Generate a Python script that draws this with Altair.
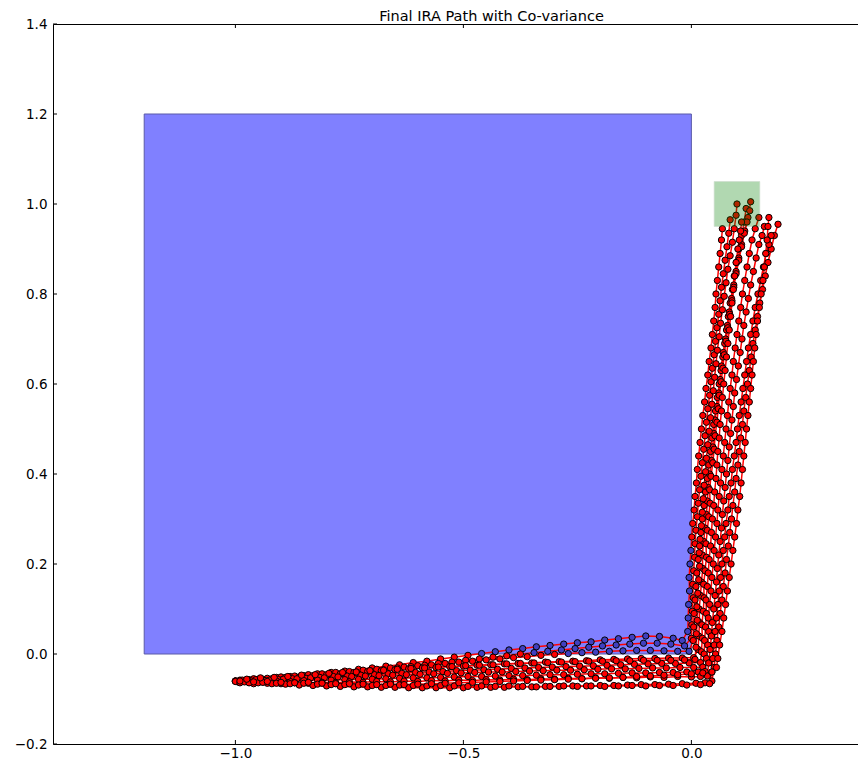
import altair as alt
import pandas as pd

title_text = "Final IRA Path with Co-variance"
x_ticks = [-1.0, -0.5, 0.0]
y_ticks = [-0.2, 0.0, 0.2, 0.4, 0.6, 0.8, 1.0, 1.2, 1.4]
x_domain = [-1.4, 0.3654]
y_domain = [-0.2, 1.4]

obstacle_box = [-1.2, 0.0, 0.0, 1.2]   # x0, x1, y0, y1
goal_box = [0.05, 0.15, 0.95, 1.05]

# ---- path 1
p1_hx = [-1.00,-0.97,-0.94,-0.91,-0.88,-0.85,-0.82,-0.79,-0.76,-0.73,-0.70,-0.67,-0.64,-0.61,-0.58,-0.55,-0.52,-0.49,-0.46,-0.43,-0.40,-0.37,-0.34,-0.31,-0.28,-0.25,-0.22,-0.19,-0.16,-0.13,-0.10,-0.07,-0.04,-0.02]
p1_hy = [-0.060,-0.057,-0.056,-0.052,-0.050,-0.048,-0.044,-0.041,-0.038,-0.034,-0.031,-0.027,-0.024,-0.019,-0.016,-0.011,-0.007,-0.003,0.001,0.005,0.009,0.012,0.016,0.019,0.022,0.025,0.027,0.031,0.034,0.037,0.040,0.039,0.035,0.030]
p1_vx = [-0.008,-0.007,-0.006,-0.004,-0.005,-0.003,-0.001,0.001,0.003,0.006,0.008,0.011,0.013,0.016,0.019,0.022,0.025,0.029,0.032,0.036,0.039,0.043,0.046,0.049,0.052,0.054,0.057,0.060,0.063,0.066,0.068]
p1_vy = [0.05,0.08,0.11,0.14,0.17,0.20,0.23,0.26,0.29,0.32,0.35,0.38,0.41,0.44,0.47,0.50,0.53,0.56,0.59,0.62,0.65,0.68,0.71,0.74,0.77,0.80,0.83,0.86,0.89,0.92,0.945]
# ---- path 2
p2_hx = [-1.00,-0.975,-0.945,-0.915,-0.885,-0.855,-0.825,-0.795,-0.765,-0.735,-0.705,-0.675,-0.645,-0.615,-0.585,-0.555,-0.525,-0.495,-0.465,-0.435,-0.405,-0.375,-0.345,-0.315,-0.285,-0.255,-0.225,-0.195,-0.165,-0.135,-0.105,-0.075,-0.045,-0.015]
p2_hy = [-0.060,-0.061,-0.058,-0.055,-0.054,-0.050,-0.048,-0.045,-0.043,-0.040,-0.037,-0.035,-0.031,-0.028,-0.025,-0.021,-0.018,-0.014,-0.011,-0.007,-0.004,0.000,0.003,0.006,0.009,0.012,0.015,0.018,0.020,0.022,0.024,0.024,0.022,0.018]
p2_vx = [0.000,0.001,0.002,0.004,0.003,0.005,0.007,0.008,0.010,0.013,0.015,0.018,0.021,0.024,0.027,0.030,0.033,0.036,0.040,0.043,0.046,0.050,0.053,0.056,0.060,0.063,0.066,0.070,0.074,0.078,0.082,0.085]
p2_vy = [0.035,0.065,0.095,0.125,0.155,0.185,0.215,0.245,0.275,0.305,0.335,0.365,0.395,0.425,0.455,0.485,0.515,0.545,0.575,0.605,0.635,0.665,0.695,0.725,0.755,0.785,0.815,0.845,0.875,0.905,0.935,0.965]
# ---- path 3
p3_hx = [-0.99,-0.96,-0.93,-0.90,-0.87,-0.84,-0.81,-0.78,-0.75,-0.72,-0.69,-0.66,-0.63,-0.60,-0.57,-0.54,-0.51,-0.48,-0.45,-0.42,-0.39,-0.36,-0.33,-0.30,-0.27,-0.24,-0.21,-0.18,-0.15,-0.12,-0.09,-0.06,-0.03,-0.005]
p3_hy = [-0.058,-0.055,-0.054,-0.051,-0.049,-0.046,-0.044,-0.041,-0.039,-0.036,-0.034,-0.031,-0.029,-0.026,-0.024,-0.021,-0.018,-0.016,-0.013,-0.011,-0.008,-0.006,-0.003,-0.001,0.001,0.003,0.004,0.006,0.007,0.008,0.008,0.007,0.006,0.006]
p3_vx = [0.004,0.005,0.006,0.008,0.010,0.012,0.015,0.018,0.021,0.024,0.028,0.031,0.035,0.038,0.042,0.045,0.049,0.053,0.057,0.061,0.065,0.069,0.073,0.077,0.081,0.085,0.090,0.094,0.099,0.104,0.110,0.116,0.120]
p3_vy = [0.03,0.06,0.09,0.12,0.15,0.18,0.21,0.24,0.27,0.30,0.33,0.36,0.39,0.42,0.45,0.48,0.51,0.54,0.57,0.60,0.63,0.66,0.69,0.72,0.75,0.78,0.81,0.84,0.87,0.90,0.93,0.96,0.99]
# ---- path 4
p4_hx = [-1.00,-0.97,-0.95,-0.92,-0.89,-0.86,-0.83,-0.80,-0.77,-0.74,-0.71,-0.68,-0.65,-0.62,-0.59,-0.56,-0.53,-0.50,-0.47,-0.44,-0.41,-0.38,-0.35,-0.32,-0.29,-0.26,-0.23,-0.20,-0.17,-0.14,-0.11,-0.08,-0.05,-0.02,0.005]
p4_hy = [-0.060,-0.059,-0.056,-0.055,-0.052,-0.051,-0.048,-0.046,-0.044,-0.041,-0.039,-0.037,-0.035,-0.033,-0.031,-0.030,-0.028,-0.027,-0.025,-0.024,-0.022,-0.021,-0.020,-0.018,-0.017,-0.016,-0.015,-0.013,-0.012,-0.011,-0.010,-0.010,-0.009,-0.009,-0.008]
p4_vx = [0.015,0.016,0.018,0.017,0.020,0.022,0.025,0.024,0.027,0.030,0.033,0.035,0.037,0.040,0.044,0.047,0.049,0.052,0.056,0.060,0.063,0.066,0.070,0.075,0.079,0.083,0.088,0.093,0.098,0.104,0.110,0.117,0.124,0.130]
p4_vy = [0.01,0.04,0.07,0.10,0.13,0.16,0.19,0.22,0.25,0.28,0.31,0.34,0.37,0.40,0.43,0.46,0.49,0.52,0.55,0.58,0.61,0.64,0.67,0.70,0.73,0.76,0.79,0.82,0.85,0.88,0.91,0.94,0.97,1.005]
# ---- path 5
p5_hx = [-0.995,-0.965,-0.935,-0.905,-0.875,-0.845,-0.815,-0.785,-0.755,-0.725,-0.695,-0.665,-0.635,-0.605,-0.575,-0.545,-0.515,-0.485,-0.455,-0.425,-0.395,-0.365,-0.335,-0.305,-0.275,-0.245,-0.215,-0.185,-0.155,-0.125,-0.095,-0.065,-0.035,-0.005,0.02]
p5_hy = [-0.062,-0.060,-0.059,-0.057,-0.055,-0.054,-0.052,-0.050,-0.049,-0.047,-0.046,-0.044,-0.043,-0.041,-0.040,-0.039,-0.037,-0.036,-0.035,-0.034,-0.032,-0.031,-0.030,-0.029,-0.028,-0.027,-0.026,-0.025,-0.024,-0.023,-0.022,-0.021,-0.021,-0.020,-0.019]
p5_vx = [0.022,0.024,0.023,0.026,0.028,0.027,0.030,0.033,0.032,0.035,0.038,0.041,0.040,0.043,0.047,0.050,0.052,0.056,0.059,0.061,0.065,0.069,0.072,0.076,0.080,0.084,0.089,0.093,0.098,0.104,0.110,0.116,0.122,0.128]
p5_vy = [0.005,0.035,0.065,0.095,0.125,0.155,0.185,0.215,0.245,0.275,0.305,0.335,0.365,0.395,0.425,0.455,0.485,0.515,0.545,0.575,0.605,0.635,0.665,0.695,0.725,0.755,0.785,0.815,0.845,0.875,0.905,0.935,0.960,0.985]
# ---- path 6
p6_hx = [-0.985,-0.955,-0.925,-0.895,-0.865,-0.835,-0.805,-0.775,-0.745,-0.715,-0.685,-0.655,-0.625,-0.595,-0.565,-0.535,-0.505,-0.475,-0.445,-0.415,-0.385,-0.355,-0.325,-0.295,-0.265,-0.235,-0.205,-0.175,-0.145,-0.115,-0.085,-0.055,-0.025,0.005,0.025]
p6_hy = [-0.058,-0.057,-0.058,-0.056,-0.055,-0.053,-0.053,-0.051,-0.050,-0.049,-0.048,-0.047,-0.046,-0.045,-0.044,-0.043,-0.042,-0.041,-0.040,-0.040,-0.039,-0.038,-0.037,-0.036,-0.036,-0.035,-0.034,-0.033,-0.033,-0.032,-0.031,-0.031,-0.030,-0.030,-0.029]
p6_vx = [0.028,0.029,0.031,0.033,0.032,0.035,0.037,0.039,0.042,0.044,0.046,0.049,0.051,0.054,0.056,0.058,0.061,0.063,0.066,0.068,0.071,0.074,0.077,0.080,0.083,0.086,0.089,0.092,0.095,0.098,0.102,0.105,0.108,0.110]
p6_vy = [0.0,0.03,0.06,0.09,0.12,0.15,0.18,0.21,0.24,0.27,0.30,0.33,0.36,0.39,0.42,0.45,0.48,0.51,0.54,0.57,0.60,0.63,0.66,0.69,0.72,0.75,0.78,0.81,0.84,0.87,0.90,0.92,0.94,0.96]
# ---- path 7
p7_hx = [-1.0,-0.97,-0.94,-0.91,-0.88,-0.85,-0.82,-0.79,-0.76,-0.73,-0.70,-0.67,-0.64,-0.61,-0.58,-0.55,-0.52,-0.49,-0.46,-0.43,-0.40,-0.37,-0.34,-0.31,-0.28,-0.25,-0.22,-0.19,-0.16,-0.13,-0.10,-0.07,-0.04,-0.01,0.015,0.03]
p7_hy = [-0.061,-0.063,-0.062,-0.060,-0.061,-0.059,-0.058,-0.058,-0.057,-0.056,-0.056,-0.055,-0.054,-0.053,-0.053,-0.052,-0.051,-0.050,-0.050,-0.049,-0.048,-0.048,-0.047,-0.046,-0.046,-0.045,-0.044,-0.044,-0.043,-0.042,-0.042,-0.041,-0.041,-0.040,-0.040,-0.039]
p7_vx = [0.033,0.036,0.038,0.037,0.040,0.043,0.045,0.048,0.050,0.053,0.056,0.058,0.061,0.064,0.067,0.070,0.073,0.076,0.079,0.082,0.085,0.089,0.092,0.096,0.100,0.104,0.108,0.112,0.117,0.122,0.127,0.133,0.140,0.148]
p7_vy = [-0.01,0.02,0.05,0.08,0.11,0.14,0.17,0.20,0.23,0.26,0.29,0.32,0.35,0.38,0.41,0.44,0.47,0.50,0.53,0.56,0.59,0.62,0.65,0.68,0.71,0.74,0.77,0.80,0.83,0.86,0.89,0.92,0.945,0.97]
# ---- path 8
p8_hx = [-0.99,-0.96,-0.93,-0.90,-0.87,-0.84,-0.81,-0.78,-0.75,-0.72,-0.69,-0.66,-0.63,-0.60,-0.57,-0.54,-0.51,-0.48,-0.45,-0.42,-0.39,-0.36,-0.33,-0.30,-0.27,-0.24,-0.21,-0.18,-0.15,-0.12,-0.09,-0.06,-0.03,0.0,0.02,0.035]
p8_hy = [-0.064,-0.066,-0.065,-0.066,-0.064,-0.065,-0.063,-0.064,-0.062,-0.063,-0.061,-0.062,-0.060,-0.061,-0.059,-0.060,-0.058,-0.059,-0.057,-0.058,-0.056,-0.057,-0.055,-0.056,-0.054,-0.055,-0.053,-0.054,-0.052,-0.053,-0.051,-0.052,-0.050,-0.051,-0.050,-0.049]
p8_vx = [0.038,0.041,0.044,0.046,0.049,0.052,0.055,0.057,0.060,0.063,0.066,0.068,0.071,0.074,0.077,0.080,0.083,0.086,0.089,0.092,0.095,0.099,0.103,0.107,0.111,0.115,0.120,0.125,0.130,0.136,0.142,0.148,0.155,0.160]
p8_vy = [-0.02,0.01,0.04,0.07,0.10,0.13,0.16,0.19,0.22,0.25,0.28,0.31,0.34,0.37,0.40,0.43,0.46,0.49,0.52,0.55,0.58,0.61,0.64,0.67,0.70,0.73,0.76,0.79,0.82,0.85,0.88,0.91,0.93,0.95]
# ---- path 9
p9_hx = [-0.98,-0.95,-0.92,-0.89,-0.86,-0.83,-0.80,-0.77,-0.74,-0.71,-0.68,-0.65,-0.62,-0.59,-0.56,-0.53,-0.50,-0.47,-0.44,-0.41,-0.38,-0.35,-0.32,-0.29,-0.26,-0.23,-0.20,-0.17,-0.14,-0.11,-0.08,-0.05,-0.02,0.01,0.03,0.045]
p9_hy = [-0.062,-0.064,-0.066,-0.067,-0.069,-0.070,-0.071,-0.072,-0.073,-0.073,-0.074,-0.074,-0.075,-0.075,-0.075,-0.075,-0.075,-0.074,-0.074,-0.074,-0.073,-0.073,-0.072,-0.072,-0.071,-0.071,-0.070,-0.070,-0.069,-0.068,-0.068,-0.067,-0.066,-0.065,-0.064,-0.060]
p9_vx = [0.050,0.053,0.056,0.060,0.063,0.067,0.070,0.074,0.077,0.081,0.084,0.088,0.091,0.095,0.098,0.102,0.105,0.108,0.112,0.115,0.119,0.123,0.127,0.131,0.135,0.140,0.145,0.150,0.156,0.162,0.168,0.175,0.182,0.190]
p9_vy = [-0.03,0.0,0.03,0.06,0.09,0.12,0.15,0.18,0.21,0.24,0.27,0.30,0.33,0.36,0.39,0.42,0.45,0.48,0.51,0.54,0.57,0.60,0.63,0.66,0.69,0.72,0.75,0.78,0.81,0.84,0.87,0.90,0.93,0.955]
# ---- path 10
p10_hx = [-0.97,-0.94,-0.91,-0.88,-0.85,-0.82,-0.79,-0.76,-0.73,-0.70,-0.67,-0.64,-0.61,-0.58,-0.55,-0.52,-0.49,-0.46,-0.43,-0.40,-0.37,-0.34,-0.31,-0.28,-0.25,-0.22,-0.19,-0.16,-0.13,-0.10,-0.07,-0.04,-0.01,0.02,0.04]
p10_hy = [-0.064,-0.063,-0.065,-0.066,-0.065,-0.067,-0.068,-0.068,-0.069,-0.070,-0.070,-0.069,-0.070,-0.071,-0.070,-0.071,-0.072,-0.071,-0.072,-0.071,-0.072,-0.073,-0.072,-0.071,-0.072,-0.071,-0.072,-0.071,-0.070,-0.071,-0.070,-0.070,-0.069,-0.068,-0.066]
p10_vx = [0.045,0.047,0.050,0.052,0.055,0.058,0.061,0.064,0.067,0.070,0.073,0.076,0.080,0.083,0.087,0.090,0.094,0.098,0.101,0.105,0.109,0.113,0.117,0.121,0.125,0.130,0.135,0.140,0.146,0.152,0.158,0.164,0.170,0.175]
p10_vy = [-0.04,-0.01,0.02,0.05,0.08,0.11,0.14,0.17,0.20,0.23,0.26,0.29,0.32,0.35,0.38,0.41,0.44,0.47,0.50,0.53,0.56,0.59,0.62,0.65,0.68,0.71,0.74,0.77,0.80,0.83,0.86,0.89,0.91,0.93]
# ---- path 11
p11_hx = [-0.99,-0.96,-0.93,-0.90,-0.87,-0.84,-0.81,-0.78,-0.75,-0.72,-0.69,-0.66,-0.63,-0.60,-0.57,-0.54,-0.51,-0.48,-0.45,-0.42,-0.39,-0.36,-0.33,-0.30,-0.27,-0.24,-0.21,-0.18,-0.15,-0.12,-0.09,-0.06,-0.03,0.0,0.025,0.045,0.055]
p11_hy = [-0.060,-0.062,-0.061,-0.063,-0.064,-0.063,-0.065,-0.066,-0.066,-0.067,-0.068,-0.067,-0.068,-0.067,-0.066,-0.065,-0.064,-0.063,-0.062,-0.061,-0.060,-0.059,-0.058,-0.057,-0.056,-0.055,-0.054,-0.053,-0.052,-0.050,-0.049,-0.047,-0.046,-0.044,-0.042,-0.040,-0.030]
p11_vx = [0.058,0.062,0.067,0.071,0.075,0.079,0.083,0.087,0.091,0.095,0.099,0.102,0.106,0.109,0.112,0.115,0.118,0.121,0.124,0.127,0.130,0.133,0.136,0.139,0.142,0.145,0.149,0.153,0.157,0.160,0.163,0.166,0.168,0.170]
p11_vy = [-0.01,0.02,0.05,0.08,0.11,0.14,0.17,0.20,0.23,0.26,0.29,0.32,0.35,0.38,0.41,0.44,0.47,0.50,0.53,0.56,0.59,0.62,0.65,0.68,0.71,0.74,0.77,0.80,0.83,0.86,0.89,0.92,0.95,0.97]
# ---- path 12
p12_hx = [-0.975,-0.945,-0.915,-0.885,-0.855,-0.825,-0.795,-0.765,-0.735,-0.705,-0.675,-0.645,-0.615,-0.585,-0.555,-0.525,-0.495,-0.465,-0.435,-0.405,-0.375,-0.345,-0.315,-0.285,-0.255,-0.225,-0.195,-0.165,-0.135,-0.105,-0.075,-0.045,-0.015,0.008]
p12_hy = [-0.056,-0.053,-0.052,-0.050,-0.047,-0.046,-0.043,-0.041,-0.040,-0.037,-0.036,-0.034,-0.032,-0.031,-0.029,-0.028,-0.026,-0.025,-0.024,-0.022,-0.021,-0.020,-0.019,-0.018,-0.017,-0.016,-0.016,-0.015,-0.015,-0.014,-0.014,-0.014,-0.013,-0.012]
p12_vx = [0.010,0.011,0.013,0.012,0.014,0.016,0.018,0.017,0.019,0.022,0.024,0.026,0.028,0.031,0.033,0.036,0.039,0.042,0.045,0.048,0.051,0.054,0.057,0.061,0.064,0.068,0.072,0.076,0.080,0.085,0.090,0.094,0.098,0.100]
p12_vy = [0.015,0.045,0.075,0.105,0.135,0.165,0.195,0.225,0.255,0.285,0.315,0.345,0.375,0.405,0.435,0.465,0.495,0.525,0.555,0.585,0.615,0.645,0.675,0.705,0.735,0.765,0.795,0.825,0.855,0.885,0.915,0.945,0.975,1.0]

paths = [
    (p1_hx, p1_hy, p1_vx, p1_vy), (p2_hx, p2_hy, p2_vx, p2_vy),
    (p3_hx, p3_hy, p3_vx, p3_vy), (p4_hx, p4_hy, p4_vx, p4_vy),
    (p5_hx, p5_hy, p5_vx, p5_vy), (p6_hx, p6_hy, p6_vx, p6_vy),
    (p7_hx, p7_hy, p7_vx, p7_vy), (p8_hx, p8_hy, p8_vx, p8_vy),
    (p9_hx, p9_hy, p9_vx, p9_vy), (p10_hx, p10_hy, p10_vx, p10_vy),
    (p11_hx, p11_hy, p11_vx, p11_vy), (p12_hx, p12_hy, p12_vx, p12_vy),
]

rows = []
for pid, (hx, hy, vx, vy) in enumerate(paths):
    pts = list(zip(hx, hy)) + list(zip(vx, vy))
    for i, (xv, yv) in enumerate(pts):
        rows.append({"path": pid, "step": i, "x": xv, "y": yv})
df = pd.DataFrame(rows)
ox0, ox1, oy0, oy1 = obstacle_box
df["inside"] = (df.x > ox0) & (df.x < ox1) & (df.y > oy0) & (df.y < oy1)

rects = pd.DataFrame([
    {"name": "obstacle", "x0": obstacle_box[0], "x1": obstacle_box[1], "y0": obstacle_box[2], "y1": obstacle_box[3]},
])
goal = pd.DataFrame([
    {"name": "goal", "x0": goal_box[0], "x1": goal_box[1], "y0": goal_box[2], "y1": goal_box[3]},
])

W, H = 805, 720
FONT = "DejaVu Sans"

xscale = alt.Scale(domain=x_domain, nice=False, zero=False)
yscale = alt.Scale(domain=y_domain, nice=False, zero=False)
xaxis = alt.Axis(values=x_ticks, format=".1f", tickSize=0, domain=False, grid=False,
                 labelPadding=2, labelFontSize=13.5, labelFont=FONT, labelColor="black", title=None)
yaxis = alt.Axis(values=y_ticks, format=".1f", tickSize=0, domain=False, grid=False,
                 labelPadding=6, labelFontSize=13.5, labelFont=FONT, labelColor="black", title=None)

X = lambda f: alt.X(f, type="quantitative", scale=xscale, axis=xaxis)
Y = lambda f: alt.Y(f, type="quantitative", scale=yscale, axis=yaxis)

obstacle_layer = alt.Chart(rects).mark_rect(color="#8080ff", stroke="#5a5aa8", strokeWidth=1).encode(
    x=X("x0"), x2="x1", y=Y("y0"), y2="y1")

lines = alt.Chart(df).mark_line(color="red", strokeWidth=1.5, clip=True).encode(
    x=X("x"), y=Y("y"), detail="path:N", order="step:Q")

points = alt.Chart(df).mark_point(filled=True, size=40, stroke="black", strokeWidth=1,
                                  opacity=1, clip=True).encode(
    x=X("x"), y=Y("y"),
    fill=alt.condition("datum.inside", alt.value("#4040c0"), alt.value("red")))

goal_layer = alt.Chart(goal).mark_rect(color="green", opacity=0.3, stroke="#5a8a5a",
                                       strokeWidth=1, strokeOpacity=0.6).encode(
    x=X("x0"), x2="x1", y=Y("y0"), y2="y1")

xt = pd.DataFrame({"t": x_ticks})
yt = pd.DataFrame({"t": y_ticks})
tick_bottom = alt.Chart(xt).mark_rule(color="black", strokeWidth=1).encode(
    x=X("t"), y=alt.value(H), y2=alt.value(H - 4))
tick_top = alt.Chart(xt).mark_rule(color="black", strokeWidth=1).encode(
    x=X("t"), y=alt.value(0), y2=alt.value(4))
tick_left = alt.Chart(yt).mark_rule(color="black", strokeWidth=1).encode(
    y=Y("t"), x=alt.value(0), x2=alt.value(4))

chart = alt.layer(
    obstacle_layer, lines, points, goal_layer, tick_bottom, tick_top, tick_left
).properties(
    width=W, height=H,
    title=alt.TitleParams(title_text, fontSize=14.5, font=FONT, fontWeight="normal",
                          anchor="middle", frame="group", dx=36, dy=12, offset=5, color="black"),
    autosize=alt.AutoSizeParams(type="none"),
    padding={"left": 45, "top": 16, "right": 0, "bottom": 18},
).configure(background="white").configure_view(stroke="black", strokeWidth=1)

chart.save("out.html", embed_options={"renderer": "svg", "actions": False})
